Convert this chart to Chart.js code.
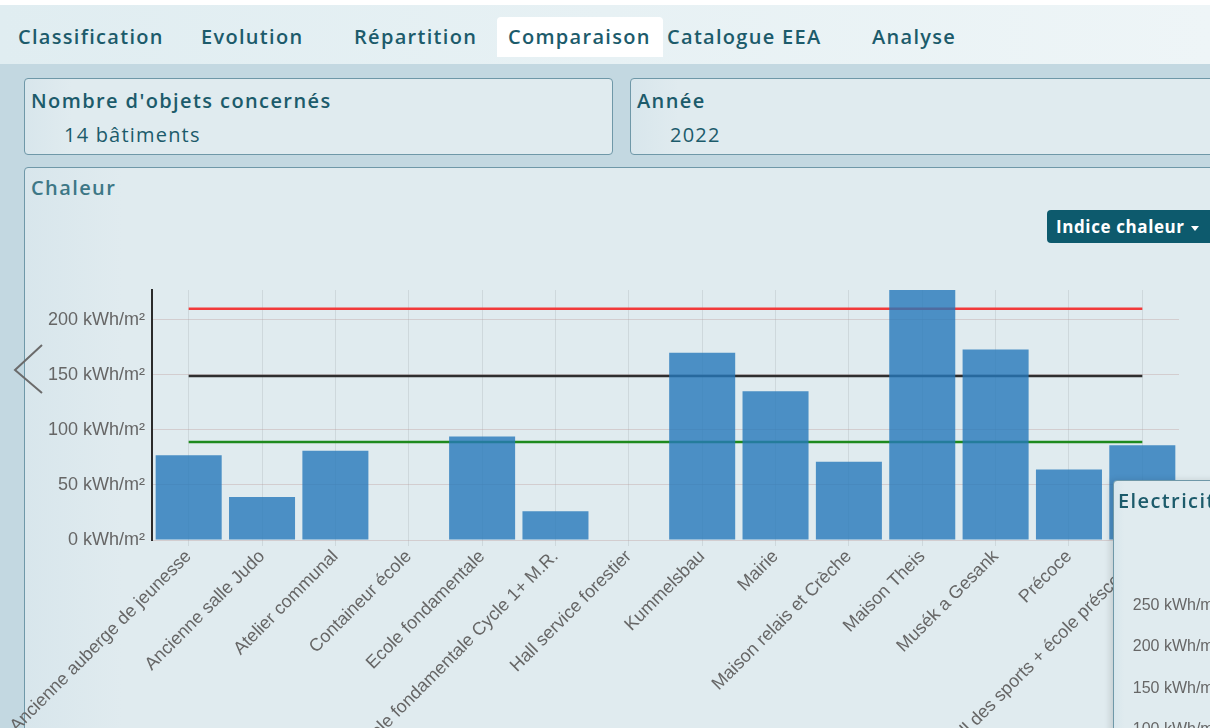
<!DOCTYPE html>
<html lang="fr">
<head>
<meta charset="utf-8">
<title>Comparaison - Chaleur</title>
<script src="https://cdn.jsdelivr.net/npm/chart.js@4.4.1/dist/chart.umd.min.js"></script>
<style>
  html, body { margin: 0; padding: 0; width: 1210px; height: 728px; overflow: hidden; }
  body { position: relative; background: #c3d8e1; font-family: "Open Sans", "Noto Sans", sans-serif; color: #1c5b6b; }
  canvas { letter-spacing: 0; }
  .topbar { position: absolute; left: 0; top: 0; width: 1210px; height: 64px; box-sizing: border-box;
            border-top: 5px solid #fff; background: linear-gradient(90deg, #e0edf1, #eef5f7); }
  .tab { position: absolute; top: 12px; height: 40px; line-height: 40px; font-size: 20px; font-weight: 600; white-space: nowrap; letter-spacing: 1.3px; }
  .tab.active { background: #fff; border-radius: 4px 4px 0 0; padding: 0 12px 0 11px; margin-left: -11px; }
  .panel { position: absolute; box-sizing: border-box; background: linear-gradient(90deg, #d8e6ec, #e0ebef 8%, #e0ebef); border: 1.5px solid #6f98a8; border-radius: 4px; }
  .title { position: absolute; left: 6px; font-size: 20px; font-weight: 600; white-space: nowrap; letter-spacing: 1.4px; }
  .value { position: absolute; font-size: 20px; font-weight: 500; white-space: nowrap; letter-spacing: 1.2px; }
  .btn { position: absolute; left: 1047px; top: 210px; width: 175px; height: 33px; border-radius: 4px; background: #0d5a6d;
         color: #fff; font-size: 17px; font-weight: 700; line-height: 33px; padding-left: 9px; box-sizing: border-box; white-space: nowrap; letter-spacing: 0.6px; }
  .caret { display: inline-block; margin-left: 6px; width: 0; height: 0; border-left: 4px solid transparent; border-right: 4px solid transparent; border-top: 5px solid #fff; vertical-align: middle; }
  #chaleurChart { position: absolute; left: 0; top: 270px; }
  .elec { position: absolute; left: 1113px; top: 480px; width: 130px; height: 300px; box-shadow: -3px 0 6px rgba(0,0,0,0.12); z-index: 3; }
  #elecChart { position: absolute; left: 1129px; top: 568px; z-index: 4; }
  .arrow { position: absolute; left: 0; top: 330px; z-index: 2; }
</style>
</head>
<body>

<div class="topbar">
  <div class="tab" style="left:18px">Classification</div>
  <div class="tab" style="left:201px">Evolution</div>
  <div class="tab" style="left:354px">Répartition</div>
  <div class="tab active" style="left:508px">Comparaison</div>
  <div class="tab" style="left:667px">Catalogue EEA</div>
  <div class="tab" style="left:872px">Analyse</div>
</div>

<div class="panel" style="left:24px; top:78px; width:589px; height:77px">
  <div class="title" style="top:8px">Nombre d'objets concernés</div>
  <div class="value" style="left:39px; top:42px">14 bâtiments</div>
</div>
<div class="panel" style="left:630px; top:78px; width:600px; height:77px">
  <div class="title" style="top:8px">Année</div>
  <div class="value" style="left:39px; top:42px">2022</div>
</div>

<div class="panel" style="left:24px; top:167px; width:1210px; height:620px">
  <div class="title" style="top:6px; color:#3d7786">Chaleur</div>
</div>
<div class="btn">Indice chaleur<span class="caret"></span></div>

<canvas id="chaleurChart" width="1200" height="500"></canvas>

<svg class="arrow" width="50" height="80">
  <polyline points="42,15 15,40 42,63" fill="none" stroke="#6b6b6b" stroke-width="2"/>
</svg>

<div class="panel elec">
  <div class="title" style="left:4px; top:6px">Electricité</div>
</div>
<canvas id="elecChart" width="220" height="261"></canvas>

<script>
/* =====================
   DATA
===================== */
const batiments = [
  "Ancienne auberge de jeunesse",
  "Ancienne salle Judo",
  "Atelier communal",
  "Containeur école",
  "Ecole fondamentale",
  "Ecole fondamentale Cycle 1+ M.R.",
  "Hall service forestier",
  "Kummelsbau",
  "Mairie",
  "Maison relais et Crèche",
  "Maison Theis",
  "Musék a Gesank",
  "Précoce",
  "Hall des sports + école préscolaire"
];
const indiceChaleur = [77, 39, 81, 0, 94, 26, 0, 170, 135, 71, 235, 173, 64, 86];
const seuilRouge = [210, 210, 210, 210, 210, 210, 210, 210, 210, 210, 210, 210, 210, 210];
const seuilNoir = [149, 149, 149, 149, 149, 149, 149, 149, 149, 149, 149, 149, 149, 149];
const seuilVert = [89, 89, 89, 89, 89, 89, 89, 89, 89, 89, 89, 89, 89, 89];
const yTicks = [0, 50, 100, 150, 200];
const elecTicks = [100, 150, 200, 250];

const unit = v => v + " kWh/m²";
const labelFont = { family: "'Liberation Sans', Arial, sans-serif", size: 18 };

/* =====================
   CHALEUR
===================== */
function lineSet(data, color) {
  return {
    type: "line", data, borderColor: color, borderWidth: 2.5,
    pointRadius: 0, fill: false, order: 1
  };
}

new Chart(document.getElementById("chaleurChart"), {
  type: "bar",
  data: {
    labels: batiments,
    datasets: [
      {
        data: indiceChaleur,
        backgroundColor: "rgba(38,120,186,0.8)",
        categoryPercentage: 1,
        barPercentage: 0.9,
        order: 0
      },
      lineSet(seuilRouge, "#f23a3a"),
      lineSet(seuilNoir, "#2e2e2e"),
      lineSet(seuilVert, "#1e8a1e")
    ]
  },
  options: {
    responsive: false,
    animation: false,
    layout: { padding: { left: 12, top: 20, right: 21, bottom: 0 } },
    plugins: { legend: { display: false }, tooltip: { enabled: false } },
    scales: {
      x: {
        grid: { offset: false, color: "rgba(0,0,0,0.08)", tickLength: 6 },
        border: { display: false },
        ticks: { autoSkip: false, maxRotation: 45, minRotation: 45, color: "#666", font: labelFont, padding: 0 },
        afterFit: s => { s.height = 230; }
      },
      y: {
        min: 0, max: 227,
        afterBuildTicks: s => { s.ticks = yTicks.map(v => ({ value: v })); },
        afterFit: s => { s.width = 140; },
        grid: { color: "rgba(185,150,150,0.35)", drawTicks: false },
        border: { color: "#2b2b2b", width: 2 },
        ticks: { color: "#666", font: labelFont, padding: 7, callback: v => unit(v) }
      }
    }
  }
});

/* =====================
   ELECTRICITE (partial)
===================== */
new Chart(document.getElementById("elecChart"), {
  type: "bar",
  data: { labels: batiments, datasets: [] },
  options: {
    responsive: false,
    animation: false,
    layout: { padding: { left: 0, top: 5, right: 0, bottom: 0 } },
    plugins: { legend: { display: false }, tooltip: { enabled: false } },
    scales: {
      x: { display: false },
      y: {
        min: 0, max: 275,
        afterBuildTicks: s => { s.ticks = elecTicks.map(v => ({ value: v })); },
        afterFit: s => { s.width = 105; },
        grid: { display: false },
        border: { display: false },
        ticks: { color: "#666", font: { family: "'Liberation Sans', Arial, sans-serif", size: 16 }, padding: 7, callback: v => unit(v) }
      }
    }
  }
});
</script>
</body>
</html>
